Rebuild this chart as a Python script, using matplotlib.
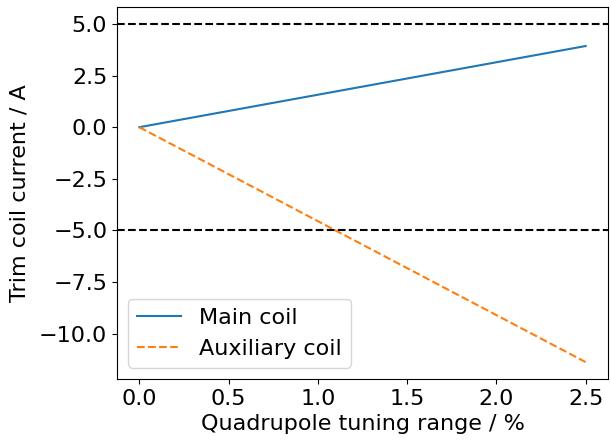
import matplotlib
matplotlib.use("Agg")
import matplotlib.pyplot as plt

# tuning range (%) and trim coil currents (A)
tuning = [0.0, 2.5]
main_coil = [0.0, 3.93]
aux_coil = [0.0, -11.37]
limit = 5.0

plt.rcParams["font.size"] = 16

fig = plt.figure(figsize=(6.11, 4.41), dpi=100)
ax = fig.add_axes([117/611, 1 - 379/441, (608 - 117)/611, (379 - 7)/441])

ax.plot(tuning, main_coil, label="Main coil")
ax.plot(tuning, aux_coil, "--", label="Auxiliary coil")
ax.axhline(limit, color="k", linestyle="--")
ax.axhline(-limit, color="k", linestyle="--")

ax.set_xlabel("Quadrupole tuning range / %")
ax.set_ylabel("Trim coil current / A", labelpad=7)
ax.legend(loc="lower left")

fig.savefig("out.png", dpi=100)
